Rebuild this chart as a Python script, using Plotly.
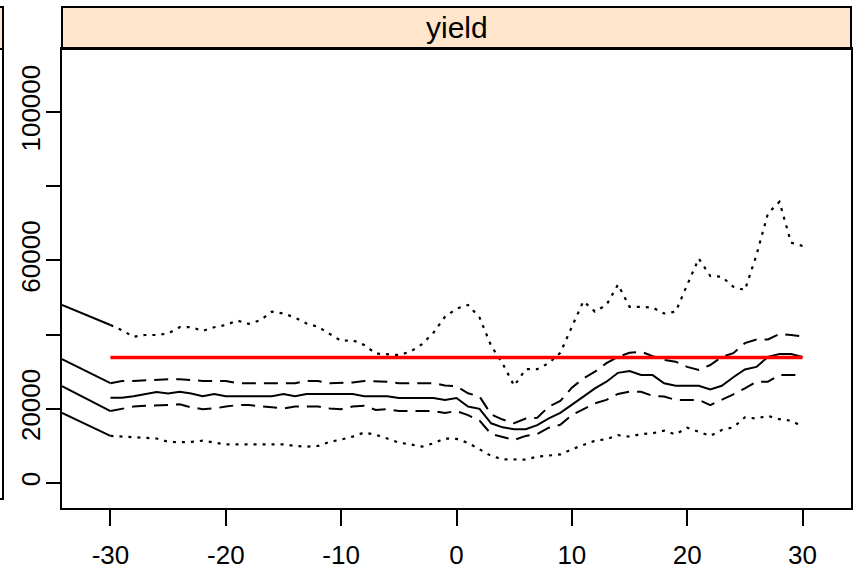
import plotly.graph_objects as go

# lag values
lags = list(range(-30, 31))

median = [23000, 23000, 23400, 24000, 24500, 24100, 24600, 24100, 23400, 24000,
          23400, 23400, 23400, 23400, 23400, 24000, 23400, 24000, 24000, 24000,
          24000, 24000, 23400, 23400, 23400, 22900, 22900, 22900, 22900, 22400,
          22900, 20600, 20000, 16100, 15000, 14500, 14500, 15600, 17400, 18900,
          21000, 23300, 25500, 27300, 29700, 30200, 29100, 29100, 26900, 26200,
          26200, 26200, 25200, 26200, 28500, 30600, 31300, 34000, 34800, 34800,
          34000]

upper_q = [26900, 27500, 27500, 27700, 28000, 28000, 28000, 27700, 27500, 27500,
           27500, 26900, 26900, 26900, 26900, 26900, 26900, 27500, 27500, 26900,
           26900, 27100, 27500, 27500, 27300, 26900, 26900, 26900, 26900, 26300,
           26100, 24200, 23300, 18500, 17100, 16100, 17400, 17600, 20600, 22100,
           25700, 28200, 30000, 32300, 34000, 35100, 35400, 34200, 33200, 32700,
           31300, 30500, 31800, 34000, 35000, 37700, 38700, 38700, 40200, 39900,
           39500]

lower_q = [19400, 19900, 20600, 20800, 20800, 21000, 21200, 20400, 19900, 20100,
           20600, 21000, 21000, 20800, 20400, 20100, 20600, 20600, 20600, 20100,
           19900, 20600, 20800, 19700, 19900, 19400, 19400, 19400, 19400, 18900,
           19400, 18300, 16800, 13200, 12300, 11600, 12700, 13200, 14900, 15700,
           18300, 19900, 21500, 22400, 24000, 24600, 24600, 23500, 23300, 22400,
           22400, 22400, 21000, 22400, 23900, 25500, 27300, 27300, 29100, 29100,
           29100]

upper_p = [42600, 41200, 39400, 39900, 39900, 40300, 42000, 42000, 41000, 42000,
           42600, 43800, 42900, 43900, 46200, 45700, 44600, 43000, 42100, 40300,
           38300, 38500, 37200, 34900, 34800, 34500, 35400, 37400, 40500, 44800,
           47000, 48000, 44600, 37000, 32200, 26200, 30700, 30700, 32300, 35100,
           42100, 49000, 46200, 48000, 53500, 47500, 47500, 47300, 45700, 46200,
           53400, 60500, 55800, 55600, 52900, 52000, 61400, 72700, 75800, 64800,
           63900]

lower_p = [12700, 12500, 12200, 12200, 12000, 11100, 11000, 11100, 11400, 10900,
           10400, 10400, 10400, 10400, 10400, 10400, 10000, 9800, 10000, 11100,
           11700, 12500, 13600, 13000, 12000, 10900, 10400, 9800, 10700, 12000,
           11900, 10800, 9100, 7300, 6400, 6300, 6300, 7100, 7400, 7700,
           9100, 10200, 11400, 11800, 12900, 12500, 13200, 13400, 14100, 13100,
           14900, 13800, 12700, 14300, 15000, 17700, 17400, 18100, 17200, 16800,
           15200]

# solid lead-in segments entering from the left panel edge (value at edge -> value at lag -30)
lead_x = [-34.2, -30]
lead_upper_p = [48000, 42600]
lead_upper_q = [33400, 26900]
lead_lower_q = [26100, 19400]
lead_lower_p = [18900, 12700]

ref_x = [-30, 30]
ref_value = 33800

ytick_vals = [0, 20000, 40000, 60000, 80000, 100000]
ytick_text = ["0", "20000", "", "60000", "", "100000"]
xtick_vals = [-30, -20, -10, 0, 10, 20, 30]
xtick_text = ["-30", "-20", "-10", "0", "10", "20", "30"]

strip_label = "yield"

FONT = "Liberation Sans, Arial, sans-serif"
NARROW = "Liberation Sans Narrow, Arial Narrow, Liberation Sans, sans-serif"

fig = go.Figure()

for ys in (lead_upper_p, lead_upper_q, lead_lower_q, lead_lower_p):
    fig.add_trace(go.Scatter(x=lead_x, y=ys, mode="lines",
                             line=dict(color="black", width=2), showlegend=False,
                             hoverinfo="skip"))

dot = dict(color="black", width=2.2, dash="3px,6px")
dash = dict(color="black", width=2, dash="14px,8px")
fig.add_trace(go.Scatter(x=lags, y=upper_p, mode="lines", line=dot, showlegend=False))
fig.add_trace(go.Scatter(x=lags, y=lower_p, mode="lines", line=dot, showlegend=False))
fig.add_trace(go.Scatter(x=lags, y=upper_q, mode="lines", line=dash, showlegend=False))
fig.add_trace(go.Scatter(x=lags, y=lower_q, mode="lines", line=dash, showlegend=False))
fig.add_trace(go.Scatter(x=lags, y=median, mode="lines",
                         line=dict(color="black", width=2), showlegend=False))
fig.add_trace(go.Scatter(x=ref_x, y=[ref_value, ref_value], mode="lines",
                         line=dict(color="#ff0000", width=3.5), showlegend=False))

W, H = 857, 571
L, R, T, B = 62, 6, 49, 63
pw = W - L - R
ph = H - T - B

def px_to_paper_x(p):
    return (p - L) / pw

def px_to_paper_y(p):
    return (H - B - p) / ph

shapes = [
    dict(type="rect", xref="paper", yref="paper", x0=0, x1=1,
         y0=1, y1=px_to_paper_y(7), fillcolor="#FFE5CC",
         line=dict(color="black", width=2), layer="below"),
    dict(type="rect", xref="paper", yref="paper", x0=px_to_paper_x(-20), x1=px_to_paper_x(3),
         y0=1, y1=px_to_paper_y(7), fillcolor="#FFE5CC",
         line=dict(color="black", width=2), layer="below"),
    dict(type="rect", xref="paper", yref="paper", x0=px_to_paper_x(-20), x1=px_to_paper_x(3),
         y0=px_to_paper_y(499), y1=1, fillcolor="rgba(0,0,0,0)",
         line=dict(color="black", width=2)),
]

fig.update_layout(
    width=W, height=H,
    margin=dict(l=L, r=R, t=T, b=B, pad=0, autoexpand=False),
    paper_bgcolor="white", plot_bgcolor="white",
    font=dict(family=FONT, color="black", size=24),
    shapes=shapes,
    annotations=[dict(text=strip_label, xref="paper", yref="paper",
                      x=0.5, y=px_to_paper_y(27), showarrow=False,
                      font=dict(family=NARROW, size=30, color="black"),
                      xanchor="center", yanchor="middle")],
)

fig.update_xaxes(range=[-34.2, 34.2], tickvals=xtick_vals, ticktext=xtick_text,
                 ticks="outside", ticklen=16, automargin=False,
                 tickwidth=1.5, tickcolor="black", showgrid=False, zeroline=False,
                 showline=True, linecolor="black", linewidth=2, mirror=True,
                 ticklabelstandoff=7, tickfont=dict(family=NARROW, size=26))
fig.update_yaxes(range=[-6740, 117000], tickvals=ytick_vals, ticktext=ytick_text,
                 ticks="outside", ticklen=14, tickwidth=1.5, tickcolor="black",
                 showgrid=False, zeroline=False, showline=True, linecolor="black",
                 linewidth=2, mirror=True, tickangle=-90, ticklabelstandoff=-4,
                 automargin=False, tickfont=dict(family=FONT, size=26))

fig.write_html("out.html")
